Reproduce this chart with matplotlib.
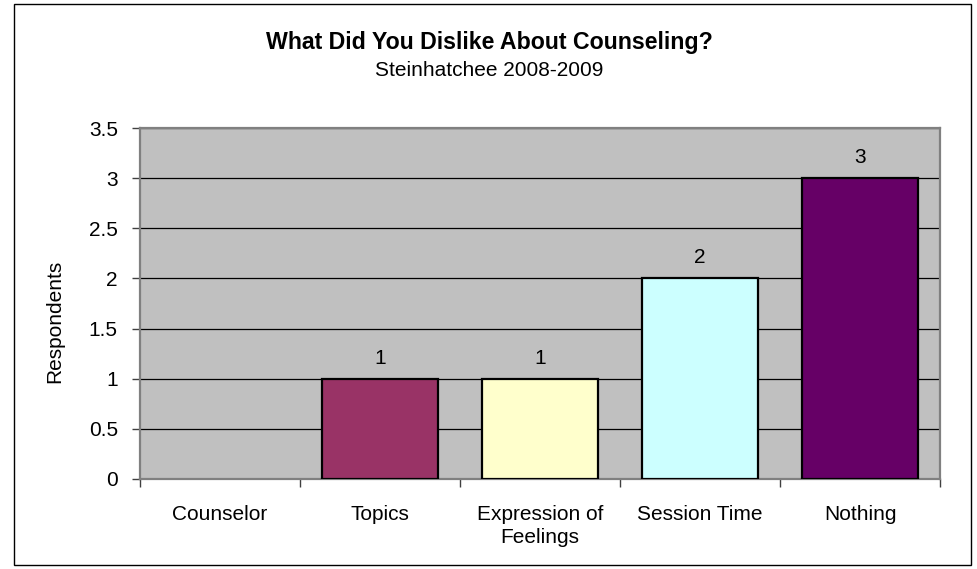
import matplotlib.pyplot as plt
from matplotlib.patches import Rectangle
import numpy as np

# chart data
categories = ["Counselor", "Topics", "Expression of\nFeelings", "Session Time", "Nothing"]
respondents = [0, 1, 1, 2, 3]
bar_colors = ["#9999FF", "#993366", "#FFFFCC", "#CCFFFF", "#660066"]
y_ticks = [0, 0.5, 1, 1.5, 2, 2.5, 3, 3.5]

plt.rcParams['font.family'] = ['Liberation Sans', 'DejaVu Sans']

fig = plt.figure(figsize=(9.78, 5.69), dpi=100)
W, H = 978, 569

# outer chart border
fig.patches.append(Rectangle((14 / W, 1 - 565 / H), (971 - 14) / W, (565 - 4) / H,
                             transform=fig.transFigure, fill=False,
                             edgecolor="#000000", linewidth=1))

ax = fig.add_axes([140 / W, 1 - 479 / H, (940 - 140) / W, (479 - 128) / H])
ax.set_facecolor("#C0C0C0")

x = np.arange(len(categories))
# empty bars get no outline
edge_w = [1.6 if v > 0 else 0 for v in respondents]
bars = ax.bar(x, respondents, width=0.72, color=bar_colors,
              edgecolor="black", linewidth=edge_w, zorder=3)

for xi, v in zip(x, respondents):
    if v > 0:
        ax.annotate(str(v), (xi, v), xytext=(0, 8), textcoords="offset points",
                    ha="center", va="bottom", fontsize=15)

ax.set_xlim(-0.5, len(categories) - 0.5)
ax.set_ylim(0, 3.5)
ax.set_yticks(y_ticks)
ax.set_yticklabels([f"{t:g}" for t in y_ticks])
ax.yaxis.grid(True, color="black", linewidth=0.9, zorder=1)
ax.set_axisbelow(True)

ax.set_xticks(x)
ax.set_xticklabels(categories, fontsize=15, linespacing=1.25)
ax.set_xticks(np.arange(-0.5, len(categories)), minor=True)
ax.tick_params(axis="x", which="major", length=0, pad=19)
ax.tick_params(axis="x", which="minor", length=6, width=1, color="#404040", direction="out")
ax.tick_params(axis="y", length=6, width=1, color="#404040", direction="out", pad=10, labelsize=15)

for s in ax.spines.values():
    s.set_color("#808080")
    s.set_linewidth(1.6)

fig.text(55 / W, 1 - 321 / H, "Respondents", rotation=90, ha="center", va="center", fontsize=15)
fig.text(489 / W, 1 - 43 / H, "What Did You Dislike About Counseling?",
         ha="center", va="center", fontsize=16.7, fontweight="bold")
fig.text(489 / W, 1 - 70 / H, "Steinhatchee 2008-2009", ha="center", va="center", fontsize=15)

fig.savefig("out.png", dpi=100, facecolor="white")
